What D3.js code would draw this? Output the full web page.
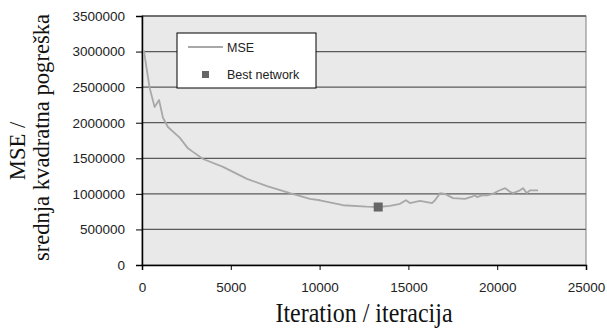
<!DOCTYPE html>
<html>
<head>
<meta charset="utf-8">
<script src="https://cdn.jsdelivr.net/npm/d3@7"></script>
<style>
  body { margin: 0; background: #fff; }
  .tick text { font-family: Arial, "Liberation Sans", sans-serif; font-size: 13.5px; fill: #222; }
</style>
</head>
<body>
<div id="chart"></div>
<script>
// MSE by iteration
const iterations = [100, 430, 710, 960, 1180, 1460, 2120, 2590, 2870, 3440, 4560, 5910, 7040, 8330,
  9460, 10020, 11320, 12650, 13300, 13960, 14530, 14860, 15090, 15650, 16040, 16330, 16500, 16780,
  17060, 17510, 18190, 18580, 18750, 18860, 19140, 19420, 19760, 20050, 20450, 20720, 20890, 21280,
  21450, 21670, 21840, 22300];
const mse = [3020000, 2490000, 2220000, 2320000, 2070000, 1940000, 1790000, 1640000, 1590000, 1490000,
  1380000, 1210000, 1110000, 1010000, 930000, 910000, 840000, 820000, 815000, 830000, 860000, 910000,
  870000, 900000, 885000, 870000, 910000, 1010000, 1000000, 940000, 930000, 960000, 980000, 955000,
  980000, 980000, 1000000, 1040000, 1080000, 1030000, 1010000, 1050000, 1080000, 1010000, 1050000,
  1050000];
const best = { iteration: 13300, mse: 815000 };
const xTicks = [0, 5000, 10000, 15000, 20000, 25000];
const yTicks = [0, 500000, 1000000, 1500000, 2000000, 2500000, 3000000, 3500000];

const W = 607, H = 330;
const margin = { top: 16, right: 21, bottom: 65, left: 142 };
const width = W - margin.left - margin.right;
const height = H - margin.top - margin.bottom;

const svg = d3.select("#chart")
  .append("svg")
  .attr("width", W)
  .attr("height", H);

const g = svg.append("g")
  .attr("transform", `translate(${margin.left}, ${margin.top})`);

const x = d3.scaleLinear().domain([0, 25000]).range([0, width]);
const y = d3.scaleLinear().domain([0, 3500000]).range([height, 0]);

// plot area
g.append("rect")
  .attr("width", width)
  .attr("height", height)
  .attr("fill", "#e9e9e9")
  .attr("stroke", "#808080");

// gridlines
g.append("g")
  .selectAll("line")
  .data(yTicks.slice(1))
  .join("line")
    .attr("x1", 0)
    .attr("x2", width)
    .attr("y1", d => y(d))
    .attr("y2", d => y(d))
    .attr("stroke", "#5a5a5a")
    .attr("stroke-width", 1.3);

// axes
const xAxis = g.append("g")
  .attr("transform", `translate(0, ${height})`)
  .call(d3.axisBottom(x).tickValues(xTicks).tickFormat(d3.format("d")).tickSize(5).tickPadding(12));

const yAxis = g.append("g")
  .call(d3.axisLeft(y).tickValues(yTicks).tickFormat(d3.format("d")).tickSize(6).tickPadding(11));

[xAxis, yAxis].forEach(a => {
  a.select(".domain").attr("stroke", "#000").attr("stroke-width", 1.5);
  a.selectAll(".tick line").attr("stroke", "#000");
});

// MSE line
const line = d3.line()
  .x((d, i) => x(iterations[i]))
  .y(d => y(d));

g.append("path")
  .datum(mse)
  .attr("fill", "none")
  .attr("stroke", "#a8a8a8")
  .attr("stroke-width", 1.8)
  .attr("stroke-linejoin", "round")
  .attr("d", line);

// best network marker
g.append("rect")
  .attr("x", x(best.iteration) - 4.5)
  .attr("y", y(best.mse) - 4.5)
  .attr("width", 9)
  .attr("height", 9)
  .attr("fill", "#666");

// legend
const legend = svg.append("g").attr("transform", "translate(177, 33)");
legend.append("rect")
  .attr("width", 139)
  .attr("height", 55)
  .attr("fill", "#fff")
  .attr("stroke", "#000");
legend.append("line")
  .attr("x1", 11).attr("x2", 46)
  .attr("y1", 14).attr("y2", 14)
  .attr("stroke", "#a8a8a8")
  .attr("stroke-width", 1.8);
legend.append("text")
  .attr("x", 50).attr("y", 18.5)
  .attr("font-family", "Arial, 'Liberation Sans', sans-serif")
  .attr("font-size", 12.5)
  .attr("fill", "#222")
  .text("MSE");
legend.append("rect")
  .attr("x", 25).attr("y", 38)
  .attr("width", 7).attr("height", 7)
  .attr("fill", "#666");
legend.append("text")
  .attr("x", 50).attr("y", 46)
  .attr("font-family", "Arial, 'Liberation Sans', sans-serif")
  .attr("font-size", 12.5)
  .attr("fill", "#222")
  .text("Best network");

// axis titles
svg.append("text")
  .attr("transform", `translate(${margin.left + width / 2}, 322) scale(1, 1.1)`)
  .attr("text-anchor", "middle")
  .attr("font-family", "'Liberation Serif', 'Times New Roman', serif")
  .attr("font-size", 24)
  .attr("fill", "#111")
  .text("Iteration / iteracija");

svg.append("text")
  .attr("transform", "translate(25, 151) rotate(-90)")
  .attr("text-anchor", "middle")
  .attr("font-family", "'Liberation Serif', 'Times New Roman', serif")
  .attr("font-size", 22.6)
  .attr("fill", "#111")
  .text("MSE /");

svg.append("text")
  .attr("transform", "translate(49, 137.5) rotate(-90)")
  .attr("text-anchor", "middle")
  .attr("font-family", "'Liberation Serif', 'Times New Roman', serif")
  .attr("font-size", 22.6)
  .attr("fill", "#111")
  .text("srednja kvadratna pogreška");
</script>
</body>
</html>
